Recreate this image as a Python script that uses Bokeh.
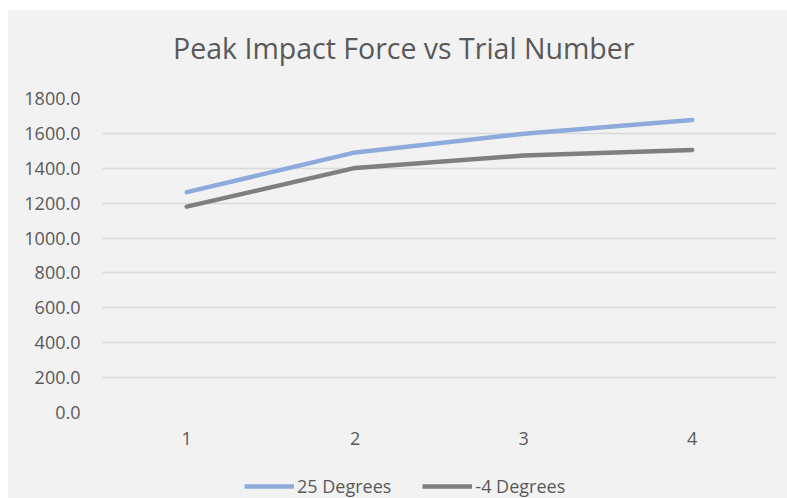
from bokeh.plotting import figure
from bokeh.layouts import column
from bokeh.models import Range1d, FixedTicker, NumeralTickFormatter, Legend, LegendItem
from bokeh.core.properties import value
from bokeh.embed import file_html
from bokeh.resources import INLINE

trials = [1, 2, 3, 4]
deg25 = [1263, 1491, 1598, 1677]
degm4 = [1180, 1402, 1473, 1505]
y_ticks = [0, 200, 400, 600, 800, 1000, 1200, 1400, 1600, 1800]
series_names = ["25 Degrees", "-4 Degrees"]
colors = ["#8faadc", "#7f7f7f"]
title_text = "Peak Impact Force vs Trial Number"

BG = "#f2f2f2"
TXT = "#595959"
FONT = "Open Sans"

def strip(height):
    f = figure(width=779, height=height, output_backend="svg", toolbar_location=None,
               x_range=Range1d(0, 1), y_range=Range1d(0, 1),
               x_axis_location=None, y_axis_location=None,
               min_border_left=94, min_border_right=11, min_border_top=0, min_border_bottom=0,
               background_fill_color=BG, border_fill_color=BG, outline_line_color=None)
    f.grid.visible = False
    return f

# title strip
hf = strip(74)
hf.text(x=[0.447], y=[0.5], text=[title_text], text_font=value(FONT), text_font_size="28.5px",
        text_color=TXT, text_align="center", text_baseline="middle")

# main chart
p = figure(width=779, height=381, output_backend="svg", toolbar_location=None,
           x_range=Range1d(0.5, 4.5), y_range=Range1d(0, 1800),
           min_border_left=94, min_border_right=11, min_border_top=14, min_border_bottom=53,
           background_fill_color=BG, border_fill_color=BG, outline_line_color=None)

for ys, c in zip([deg25, degm4], colors):
    p.line(trials, ys, line_color=c, line_width=4.5, line_cap="round", line_join="round")

p.xaxis.ticker = FixedTicker(ticks=trials)
p.yaxis.ticker = FixedTicker(ticks=y_ticks)
p.yaxis.formatter = NumeralTickFormatter(format="0.0")
for ax in (p.xaxis[0], p.yaxis[0]):
    ax.axis_line_color = None
    ax.major_tick_line_color = None
    ax.minor_tick_line_color = None
    ax.major_label_text_font = FONT
    ax.major_label_text_font_size = "18px"
    ax.major_label_text_color = TXT
p.xaxis.major_label_standoff = 13
p.yaxis.major_label_standoff = 16

p.xgrid.grid_line_color = None
p.ygrid.grid_line_color = "#d9d9d9"
p.ygrid.grid_line_width = 1.5

# legend strip below the chart (series drawn off-range, only their legend glyphs show)
lf = strip(33)
lf.y_range = Range1d(5000, 5001)
lf.x_range = Range1d(0.5, 4.5)
items = []
for ys, c, name in zip([deg25, degm4], colors, series_names):
    r = lf.line(trials, ys, line_color=c, line_width=4.5)
    items.append(LegendItem(label=name, renderers=[r]))
legend = Legend(items=items, orientation="horizontal", location=(142, 0),
                background_fill_alpha=0, border_line_color=None,
                label_text_font=FONT, label_text_font_size="18px", label_text_color=TXT,
                label_height=20, glyph_height=20,
                glyph_width=50, label_standoff=3, spacing=31, margin=0, padding=0)
lf.add_layout(legend, "center")

layout = column(hf, p, lf, spacing=0)
layout.margin = (10, 0, 0, 8)
layout.styles = {"background-color": BG}

open("out.html", "w").write(file_html(layout, INLINE))
